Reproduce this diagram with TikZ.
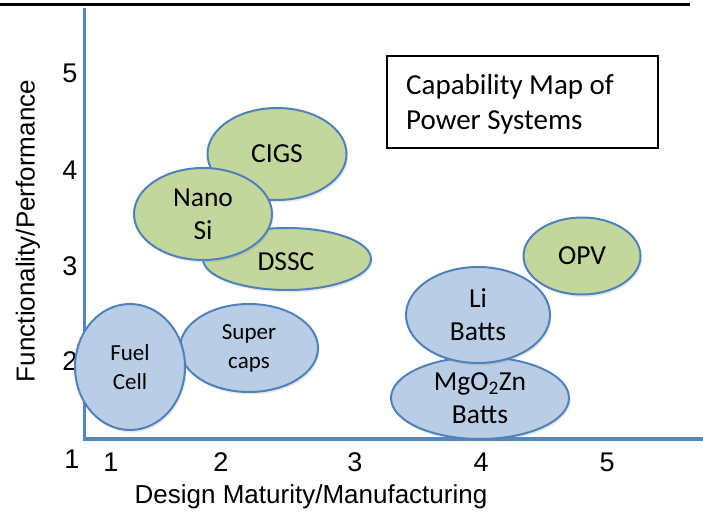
\documentclass[tikz,border=0pt]{standalone}
\usepackage{fontspec}
\setmainfont{Carlito}
\newfontfamily\arialf{Liberation Sans}
\usetikzlibrary{shapes.geometric,shadows}
\definecolor{edgeblue}{RGB}{79,129,189}
\definecolor{axisblue}{RGB}{84,133,196}
\definecolor{greenfill}{RGB}{195,214,155}
\definecolor{bluefill}{RGB}{185,205,229}
\begin{document}
\begin{tikzpicture}[x=1pt,y=-1pt,
  blob/.style={ellipse, draw=edgeblue, line width=2pt, inner sep=0pt,
    align=center, font=\fontsize{27.5}{33}\selectfont,
    drop shadow={opacity=0.18, shadow xshift=1.5pt, shadow yshift=-2.5pt}},
  gblob/.style={blob, fill=greenfill},
  bblob/.style={blob, fill=bluefill},
  ticklab/.style={font=\arialf\fontsize{27}{30}\selectfont, inner sep=0pt},
  axlab/.style={font=\arialf\fontsize{26}{30}\selectfont, inner sep=0pt},
  axisline/.style={draw=axisblue, line width=3.5pt}]
\useasboundingbox (0,0) rectangle (703,518);
% top rule
\coordinate (tl) at (0,4.5);
\coordinate (tr) at (690,4.5);
\draw[line width=3.5pt] (tl) -- (tr);
% axes
\coordinate (ytop) at (84.5,8);
\coordinate (orig) at (84.5,439);
\coordinate (xend) at (703,439);
\draw[axisline, line join=miter] (ytop) -- (orig) -- (xend);
% y ticks
\node[ticklab] (y5) at (70,73) {5};
\node[ticklab] (y4) at (70,170) {4};
\node[ticklab] (y3) at (70,266) {3};
\node[ticklab] (y2) at (70,361) {2};
\node[ticklab] (y1) at (72,459) {1};
% x ticks
\node[ticklab] (x1) at (111,462) {1};
\node[ticklab] (x2) at (221,462) {2};
\node[ticklab] (x3) at (355,462) {3};
\node[ticklab] (x4) at (481,462) {4};
\node[ticklab] (x5) at (607,462) {5};
% axis labels
\node[axlab] (xlab) at (311,497) {Design Maturity/Manufacturing};
\node[axlab, rotate=90] (ylab) at (28,231) {Functionality/Performance};
% title box
\node[draw, line width=1.3pt, minimum width=271pt, minimum height=92pt,
  inner sep=0pt] (tbox) at (522.5,102) {};
\node[anchor=west, align=left, inner sep=0pt,
  font=\fontsize{29}{35}\selectfont] (ttext) at (406,104.5)
  {Capability Map of\\Power Systems};
% blue ellipses
\node[bblob, minimum width=178pt, minimum height=82pt] (mgo) at (480,398)
  {MgO\textsubscript{2}Zn\\Batts};
\node[bblob, minimum width=144pt, minimum height=96pt] (li) at (478,315)
  {Li\\Batts};
\node[bblob, minimum width=138pt, minimum height=88pt,
  font=\fontsize{23}{29}\selectfont] (sc) at (249,348) {Super\\caps};
\node[bblob, minimum width=110pt, minimum height=126pt,
  font=\fontsize{23}{29}\selectfont] (fc) at (130,367) {Fuel\\Cell};
% green ellipses
\node[gblob, minimum width=168pt, minimum height=62pt] (dssc) at (287,259) {};
\node[font=\fontsize{27.5}{33}\selectfont, inner sep=0pt] (dsscl) at (286,262) {DSSC};
\node[gblob, minimum width=139pt, minimum height=92pt] (cigs) at (277,154) {CIGS};
\node[gblob, minimum width=138pt, minimum height=92pt] (nano) at (203,214) {Nano\\Si};
\node[gblob, minimum width=117pt, minimum height=77pt] (opv) at (582,256) {OPV};
\end{tikzpicture}
\end{document}
